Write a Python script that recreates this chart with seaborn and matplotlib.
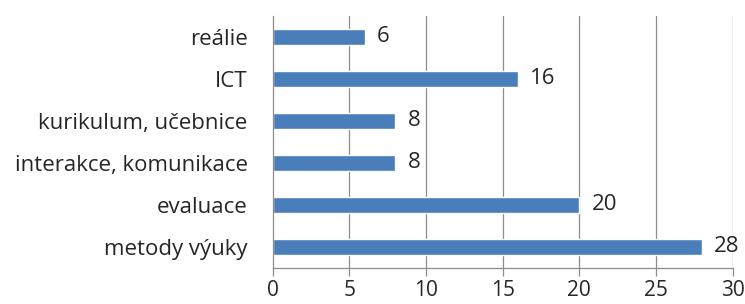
import matplotlib
matplotlib.use("Agg")
import matplotlib.pyplot as plt
import seaborn as sns
import pandas as pd

categories = ["reálie", "ICT", "kurikulum, učebnice", "interakce, komunikace", "evaluace", "metody výuky"]
values = [6, 16, 8, 8, 20, 28]
xticks = [0, 5, 10, 15, 20, 25, 30]

sns.set_theme(style="white")
plt.rcParams['font.family'] = ['Open Sans', 'DejaVu Sans']

df = pd.DataFrame({"cat": categories, "val": values})

fig = plt.figure(figsize=(7.45, 3.04), dpi=100)
ax = fig.add_axes([272.7/745, 1 - 267.7/304, (732.5-272.7)/745, (267.7-15.7)/304])

sns.barplot(data=df, x="val", y="cat", orient="h", color="#4a7ebb", saturation=1,
            width=0.38, ax=ax)

ax.set_xlim(0, 30)
ax.set_ylim(5.5, -0.5)
ax.set_xticks(xticks)
ax.set_xticklabels([str(t) for t in xticks])
ax.set_xlabel("")
ax.set_ylabel("")

for x in xticks[1:]:
    ax.axvline(x, color="#8c8c8c", lw=0.9, zorder=0)

for s in ["top", "right"]:
    ax.spines[s].set_visible(False)
for s in ["left", "bottom"]:
    ax.spines[s].set_color("#8c8c8c")
    ax.spines[s].set_linewidth(0.9)

fs = 16
ax.set_yticks(range(len(categories)))
ax.set_yticklabels(categories)
ax.tick_params(axis="y", length=0, pad=18, labelsize=fs, labelcolor="#262626")
ax.set_yticks([i + 0.5 for i in range(-1, len(categories))], minor=True)
ax.tick_params(axis="y", which="minor", length=6, color="#8c8c8c", width=0.9, direction="out")
ax.tick_params(axis="x", length=6, color="#8c8c8c", width=0.9, direction="out",
               labelsize=15, labelcolor="#262626", pad=3, bottom=True)

for i, v in enumerate(values):
    ax.annotate(str(v), xy=(v, i), xytext=(9, 0), textcoords="offset points",
                ha="left", va="center", fontsize=fs, color="#262626")

fig.savefig("out.png", dpi=100)
